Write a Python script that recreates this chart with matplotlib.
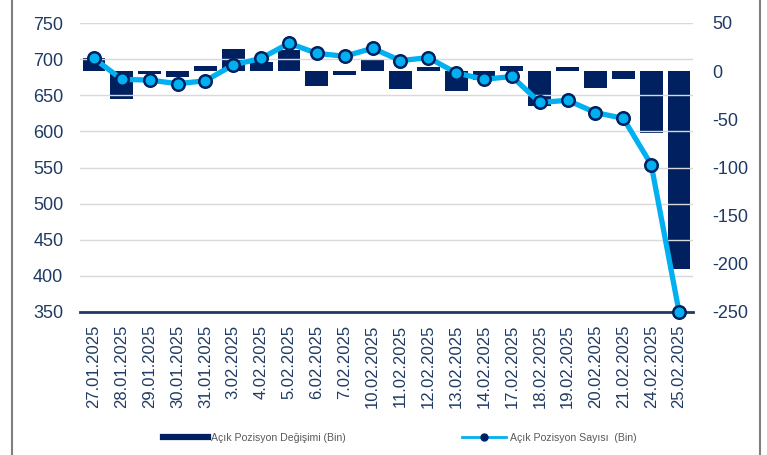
import matplotlib
matplotlib.use("Agg")
import matplotlib.pyplot as plt
from matplotlib.lines import Line2D
import numpy as np

plt.rcParams['font.family'] = ['Liberation Sans', 'DejaVu Sans']
plt.rcParams['axes.unicode_minus'] = False

dates = ["27.01.2025", "28.01.2025", "29.01.2025", "30.01.2025", "31.01.2025",
         "3.02.2025", "4.02.2025", "5.02.2025", "6.02.2025", "7.02.2025",
         "10.02.2025", "11.02.2025", "12.02.2025", "13.02.2025", "14.02.2025",
         "17.02.2025", "18.02.2025", "19.02.2025", "20.02.2025", "21.02.2025",
         "24.02.2025", "25.02.2025"]
# Açık Pozisyon Değişimi (Bin) - right axis
degisim = [14, -29, -3, -6, 5, 23, 9, 22, -15, -4, 12, -18, 4, -21, -9, 5,
           -36, 4, -17, -8, -64, -205]
# Açık Pozisyon Sayısı (Bin) - left axis
sayi = [701, 672, 671, 666, 670, 692, 701, 722, 708, 704, 715, 698, 702,
        681, 672, 676, 640, 643, 626, 618, 554, 350]

navy = '#002060'
cyan = '#00B0F0'
txt = '#1F3A64'

fig = plt.figure(figsize=(7.67, 4.55), dpi=100)
ax = fig.add_axes([80/767, 1-312/455, (693-80)/767, (312-23)/455])
ax2 = ax.twinx()

x = np.arange(len(dates))
ax2.bar(x, degisim, width=0.82, color=navy, zorder=2)
ax.plot(x, sayi, color=cyan, lw=3.8, marker='o', markersize=9,
        markerfacecolor=cyan, markeredgecolor=navy, markeredgewidth=1.8,
        zorder=5, clip_on=False)

# line on top of the bars
ax.set_zorder(ax2.get_zorder() + 1)
ax.patch.set_visible(False)

ax.set_ylim(350, 750)
ax.set_yticks(np.arange(350, 751, 50))
ax2.set_ylim(-250, 50)
ax2.set_yticks(np.arange(-250, 51, 50))
ax.set_xlim(-0.5, len(dates) - 0.5)
ax.set_xticks(x)
ax.set_xticklabels(dates, rotation=90)

ax.grid(axis='y', color='#D9D9D9', lw=1)
ax.set_axisbelow(True)

for a in (ax, ax2):
    for s in a.spines.values():
        s.set_visible(False)
ax.spines['bottom'].set_visible(True)
ax.spines['bottom'].set_color('#1F3864')
ax.spines['bottom'].set_linewidth(2)

ax.tick_params(axis='y', length=0, labelsize=13, labelcolor=txt, pad=12)
ax.tick_params(axis='x', length=0, labelsize=12, labelcolor=txt, pad=9)
ax2.tick_params(axis='y', length=0, labelsize=13, labelcolor=txt, pad=14)

handles = [Line2D([0], [0], color=navy, lw=4.5),
           Line2D([0], [0], color=cyan, lw=2, marker='o', markersize=5,
                  markerfacecolor=navy, markeredgecolor=navy)]
labels = ["Açık Pozisyon Değişimi (Bin)", "Açık Pozisyon Sayısı  (Bin)"]
fig.legend(handles, labels, loc='center', bbox_to_anchor=(400/767, 1-438/455),
           ncol=2, frameon=False, fontsize=7.6, handlelength=4.2,
           columnspacing=11, labelcolor='#595959', handletextpad=0.35)

# side border lines
fig.add_artist(Line2D([12/767, 12/767], [0, 1], color='#7F7F7F', lw=1.5))
fig.add_artist(Line2D([760/767, 760/767], [0, 1], color='#7F7F7F', lw=1.5))

plt.savefig("out.png", dpi=100)
